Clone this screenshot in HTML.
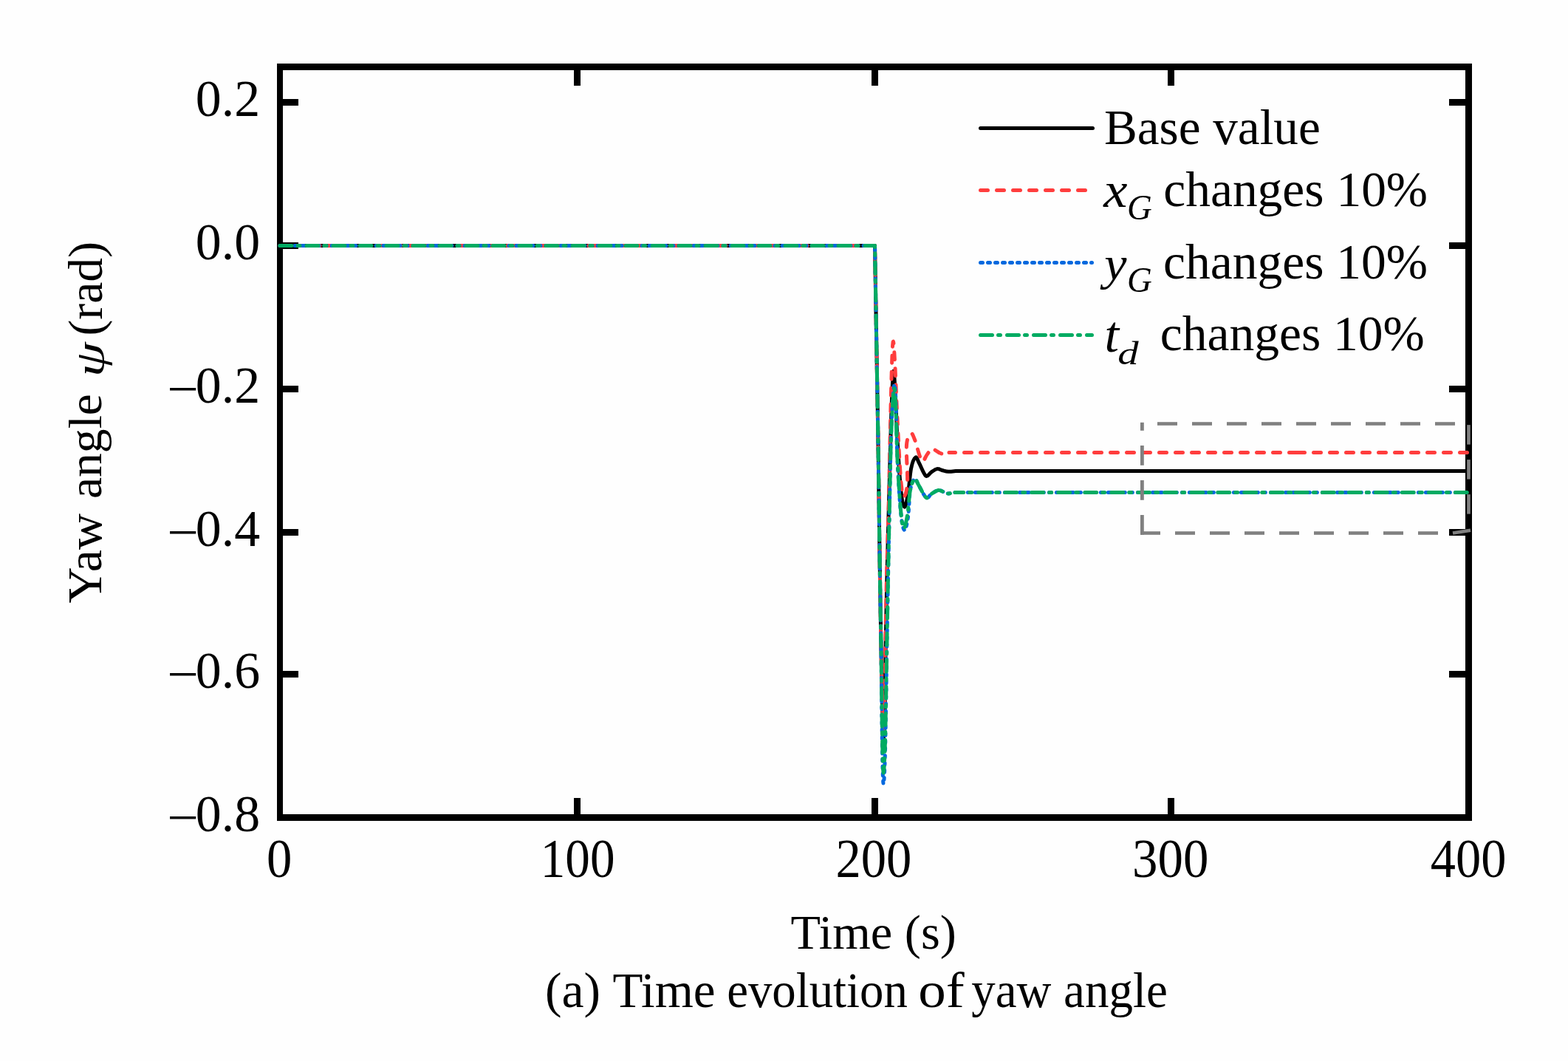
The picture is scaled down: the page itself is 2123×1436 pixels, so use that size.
<!DOCTYPE html><html><head><meta charset="utf-8"><style>html,body{margin:0;padding:0;background:#FEFEFE;overflow:hidden}svg{display:block}text{font-family:"Liberation Serif","Times New Roman",serif;fill:#000}</style></head><body>
<svg width="2123" height="1436" viewBox="0 0 2123 1436">
<rect x="0" y="0" width="2123" height="1436" fill="#FEFEFE"/>
<g fill="#000">
<rect x="375" y="86" width="1618" height="9"/>
<rect x="375" y="1102" width="1618" height="9"/>
<rect x="375" y="86" width="8" height="1025"/>
<rect x="1984" y="86" width="9" height="1025"/>
<rect x="383" y="134.0" width="21" height="9"/>
<rect x="1962" y="134.0" width="22" height="9"/>
<rect x="383" y="328.0" width="21" height="9"/>
<rect x="1962" y="328.0" width="22" height="9"/>
<rect x="383" y="522.0" width="21" height="9"/>
<rect x="1962" y="522.0" width="22" height="9"/>
<rect x="383" y="716.0" width="21" height="9"/>
<rect x="1962" y="716.0" width="22" height="9"/>
<rect x="383" y="908.0" width="21" height="9"/>
<rect x="1962" y="908.0" width="22" height="9"/>
<rect x="777.0" y="1080" width="9" height="22"/>
<rect x="777.0" y="95" width="9" height="21"/>
<rect x="1180.0" y="1080" width="9" height="22"/>
<rect x="1180.0" y="95" width="9" height="21"/>
<rect x="1581.0" y="1080" width="9" height="22"/>
<rect x="1581.0" y="95" width="9" height="21"/>
</g>
<text><tspan x="264.87" y="156.80" font-size="69.74" textLength="87.34" lengthAdjust="spacingAndGlyphs">0.2</tspan></text>
<text><tspan x="264.87" y="350.80" font-size="69.74" textLength="87.34" lengthAdjust="spacingAndGlyphs">0.0</tspan></text>
<text><tspan x="226.61" y="549.00" font-size="67.00" textLength="42.67" lengthAdjust="spacingAndGlyphs">−</tspan><tspan x="264.87" y="544.80" font-size="69.74" textLength="87.34" lengthAdjust="spacingAndGlyphs">0.2</tspan></text>
<text><tspan x="226.61" y="743.00" font-size="67.00" textLength="42.67" lengthAdjust="spacingAndGlyphs">−</tspan><tspan x="264.87" y="738.80" font-size="69.74" textLength="87.34" lengthAdjust="spacingAndGlyphs">0.4</tspan></text>
<text><tspan x="226.61" y="935.00" font-size="67.00" textLength="42.67" lengthAdjust="spacingAndGlyphs">−</tspan><tspan x="264.87" y="930.80" font-size="69.74" textLength="87.34" lengthAdjust="spacingAndGlyphs">0.6</tspan></text>
<text><tspan x="226.61" y="1129.00" font-size="67.00" textLength="42.67" lengthAdjust="spacingAndGlyphs">−</tspan><tspan x="264.87" y="1124.80" font-size="69.74" textLength="87.34" lengthAdjust="spacingAndGlyphs">0.8</tspan></text>
<text><tspan x="361.03" y="1187.00" font-size="73.40" textLength="34.34" lengthAdjust="spacingAndGlyphs">0</tspan></text>
<text><tspan x="731.79" y="1187.00" font-size="73.40" textLength="100.72" lengthAdjust="spacingAndGlyphs">100</tspan></text>
<text><tspan x="1131.43" y="1187.00" font-size="73.40" textLength="102.93" lengthAdjust="spacingAndGlyphs">200</tspan></text>
<text><tspan x="1533.11" y="1187.00" font-size="73.40" textLength="103.36" lengthAdjust="spacingAndGlyphs">300</tspan></text>
<text><tspan x="1936.78" y="1187.00" font-size="73.40" textLength="102.57" lengthAdjust="spacingAndGlyphs">400</tspan></text>
<text><tspan x="1070.61" y="1283.88" font-size="65.68" textLength="224.16" lengthAdjust="spacingAndGlyphs">Time (s)</tspan></text>
<text><tspan x="737.97" y="1363.00" font-size="67.00" textLength="75.14" lengthAdjust="spacingAndGlyphs">(a)</tspan> <tspan x="829.50" y="1363.00" font-size="67.00" textLength="139.05" lengthAdjust="spacingAndGlyphs">Time</tspan> <tspan x="984.20" y="1363.00" font-size="67.00" textLength="244.66" lengthAdjust="spacingAndGlyphs">evolution</tspan> <tspan x="1243.24" y="1363.00" font-size="67.00" textLength="62.45" lengthAdjust="spacingAndGlyphs">of</tspan> <tspan x="1315.23" y="1363.00" font-size="67.00" textLength="108.07" lengthAdjust="spacingAndGlyphs">yaw</tspan> <tspan x="1440.06" y="1363.00" font-size="67.00" textLength="140.77" lengthAdjust="spacingAndGlyphs">angle</tspan></text>
<text><tspan x="1494.89" y="195.00" font-size="68.34" textLength="292.89" lengthAdjust="spacingAndGlyphs">Base value</tspan></text>
<text><tspan x="1494.38" y="280.00" font-size="67.22" font-style="italic" textLength="32.23" lengthAdjust="spacingAndGlyphs">x</tspan><tspan x="1525.98" y="297.00" font-size="48.30" font-style="italic" textLength="33.78" lengthAdjust="spacingAndGlyphs">G</tspan> <tspan x="1575.28" y="279.20" font-size="68.34" textLength="357.80" lengthAdjust="spacingAndGlyphs">changes 10%</tspan></text>
<text><tspan x="1495.29" y="377.54" font-size="63.94" font-style="italic" textLength="30.26" lengthAdjust="spacingAndGlyphs">y</tspan><tspan x="1525.98" y="394.80" font-size="47.85" font-style="italic" textLength="33.78" lengthAdjust="spacingAndGlyphs">G</tspan> <tspan x="1575.08" y="377.20" font-size="68.34" textLength="358.00" lengthAdjust="spacingAndGlyphs">changes 10%</tspan></text>
<text><tspan x="1495.56" y="476.00" font-size="68.76" font-style="italic" textLength="19.50" lengthAdjust="spacingAndGlyphs">t</tspan><tspan x="1513.24" y="492.90" font-size="45.04" font-style="italic" textLength="28.36" lengthAdjust="spacingAndGlyphs">d</tspan> <tspan x="1570.78" y="474.40" font-size="68.34" textLength="358.00" lengthAdjust="spacingAndGlyphs">changes 10%</tspan></text>
<text transform="rotate(-90)"><tspan x="-816.41" y="137.01" font-size="66.11" textLength="121.52" lengthAdjust="spacingAndGlyphs">Yaw</tspan> <tspan x="-675.06" y="137.47" font-size="63.81" textLength="142.01" lengthAdjust="spacingAndGlyphs">angle</tspan> <tspan x="-510.22" y="140.47" font-size="54.21" font-style="italic" textLength="46.99" lengthAdjust="spacingAndGlyphs">ψ</tspan> <tspan x="-454.64" y="138.08" font-size="64.69" textLength="127.77" lengthAdjust="spacingAndGlyphs">(rad)</tspan></text>
<line x1="1327.5" y1="173.5" x2="1479.5" y2="173.5" stroke="#000" stroke-width="5" stroke-linecap="round"/>
<line x1="1327.5" y1="257.5" x2="1479.5" y2="257.5" stroke="#FF3D3D" stroke-width="5" stroke-linecap="round" stroke-dasharray="10 12"/>
<line x1="1327.5" y1="355.5" x2="1478.5" y2="355.5" stroke="#0068DE" stroke-width="5" stroke-linecap="round" stroke-dasharray="3 7"/>
<line x1="1327.5" y1="453.5" x2="1478.5" y2="453.5" stroke="#00AB62" stroke-width="5" stroke-linecap="round" stroke-dasharray="16 8 3 9"/>
<path d="M379,332.5 L1184.50,332.50 C1184.83,352.08 1185.75,405.42 1186.50,450.00 C1187.25,494.58 1188.25,550.00 1189.00,600.00 C1189.75,650.00 1190.33,703.33 1191.00,750.00 C1191.67,796.67 1192.40,845.83 1193.00,880.00 C1193.60,914.17 1194.10,935.00 1194.60,955.00 C1195.10,975.00 1195.38,1000.00 1196.00,1000.00 C1196.62,1000.00 1197.78,975.00 1198.30,955.00 C1198.82,935.00 1198.70,907.50 1199.10,880.00 C1199.50,852.50 1199.96,823.33 1200.70,790.00 C1201.44,756.67 1202.54,717.75 1203.54,680.00 C1204.54,642.25 1205.71,592.92 1206.70,563.50 C1207.69,534.08 1208.62,509.33 1209.50,503.50 C1210.38,497.67 1211.08,513.29 1212.00,528.50 C1212.92,543.71 1213.75,572.67 1215.00,594.75 C1216.25,616.83 1217.92,645.79 1219.50,661.00 C1221.08,676.21 1222.83,684.83 1224.50,686.00 C1226.17,687.17 1227.98,676.67 1229.50,668.00 C1231.02,659.33 1231.92,642.17 1233.60,634.00 C1235.28,625.83 1237.77,620.17 1239.60,619.00 C1241.43,617.83 1242.28,622.83 1244.60,627.00 C1246.92,631.17 1250.85,641.95 1253.50,644.00 C1256.15,646.05 1257.98,640.87 1260.50,639.30 C1263.02,637.73 1266.08,635.08 1268.60,634.60 C1271.12,634.12 1273.03,635.83 1275.60,636.45 C1278.17,637.07 1280.93,638.12 1284.00,638.30 C1287.07,638.47 1292.33,637.63 1294.00,637.50 L1988.5,637.5" fill="none" stroke="#000" stroke-width="5" stroke-linejoin="round"/>
<path d="M379,332.5 L1184.50,332.50 C1184.83,352.08 1185.75,405.42 1186.50,450.00 C1187.25,494.58 1188.25,550.00 1189.00,600.00 C1189.75,650.00 1190.33,703.33 1191.00,750.00 C1191.67,796.67 1192.40,847.83 1193.00,880.00 C1193.60,912.17 1194.13,925.00 1194.60,943.00 C1195.07,961.00 1195.22,988.00 1195.80,988.00 C1196.38,988.00 1197.62,961.00 1198.10,943.00 C1198.58,925.00 1198.33,905.50 1198.70,880.00 C1199.07,854.50 1199.53,823.33 1200.30,790.00 C1201.07,756.67 1202.23,724.42 1203.30,680.00 C1204.37,635.58 1205.75,559.58 1206.70,523.50 C1207.65,487.42 1208.20,469.33 1209.00,463.50 C1209.80,457.67 1210.50,471.12 1211.50,488.50 C1212.50,505.88 1213.67,541.33 1215.00,567.75 C1216.33,594.17 1218.08,629.62 1219.50,647.00 C1220.92,664.38 1222.00,670.83 1223.50,672.00 C1225.00,673.17 1227.83,665.67 1228.50,654.00 C1229.17,642.33 1226.67,613.17 1227.50,602.00 C1228.33,590.83 1231.67,588.17 1233.50,587.00 C1235.33,585.83 1236.08,588.92 1238.50,595.00 C1240.92,601.08 1245.25,620.08 1248.00,623.50 C1250.75,626.92 1252.75,618.17 1255.00,615.50 C1257.25,612.83 1259.25,608.29 1261.50,607.50 C1263.75,606.71 1266.25,609.67 1268.50,610.75 C1270.75,611.83 1272.25,613.71 1275.00,614.00 C1277.75,614.29 1283.33,612.75 1285.00,612.50" fill="none" stroke="#FF3D3D" stroke-width="5" stroke-linecap="round" stroke-linejoin="round" stroke-dasharray="10 12"/>
<path d="M1285,612.5 L1756.5,612.5" fill="none" stroke="#FF3D3D" stroke-width="5" stroke-linecap="round" stroke-linejoin="round" stroke-dasharray="10 12" stroke-dashoffset="1.50"/>
<path d="M1756.5,612.5 L1988.5,612.5" fill="none" stroke="#FF3D3D" stroke-width="5" stroke-linecap="round" stroke-linejoin="round" stroke-dasharray="10 12"/>
<path d="M379,332.5 L1184.50,332.50 C1184.83,352.08 1185.75,405.42 1186.50,450.00 C1187.25,494.58 1188.25,550.00 1189.00,600.00 C1189.75,650.00 1190.33,703.33 1191.00,750.00 C1191.67,796.67 1192.40,835.67 1193.00,880.00 C1193.60,924.33 1194.07,985.83 1194.60,1016.00 C1195.13,1046.17 1195.55,1061.00 1196.20,1061.00 C1196.85,1061.00 1197.75,1046.17 1198.50,1016.00 C1199.25,985.83 1200.07,917.67 1200.70,880.00 C1201.33,842.33 1201.67,823.33 1202.30,790.00 C1202.93,756.67 1203.77,714.75 1204.50,680.00 C1205.23,645.25 1205.68,607.92 1206.70,581.50 C1207.72,555.08 1209.53,527.33 1210.60,521.50 C1211.67,515.67 1212.37,530.17 1213.10,546.50 C1213.83,562.83 1213.93,595.17 1215.00,619.50 C1216.07,643.83 1217.92,676.17 1219.50,692.50 C1221.08,708.83 1222.83,716.33 1224.50,717.50 C1226.17,718.67 1228.17,708.58 1229.50,699.50 C1230.83,690.42 1231.00,671.58 1232.50,663.00 C1234.00,654.42 1236.67,649.17 1238.50,648.00 C1240.33,646.83 1240.92,651.75 1243.50,656.00 C1246.08,660.25 1251.08,671.42 1254.00,673.50 C1256.92,675.58 1258.25,670.17 1261.00,668.50 C1263.75,666.83 1267.75,663.96 1270.50,663.50 C1273.25,663.04 1275.42,665.00 1277.50,665.75 C1279.58,666.50 1280.42,667.88 1283.00,668.00 C1285.58,668.12 1291.33,666.75 1293.00,666.50" fill="none" stroke="#0068DE" stroke-width="5" stroke-linecap="round" stroke-linejoin="round" stroke-dasharray="3 7"/>
<path d="M1293,666.5 L1988.5,666.5" fill="none" stroke="#0068DE" stroke-width="5" stroke-linecap="round" stroke-linejoin="round" stroke-dasharray="3 7" stroke-dashoffset="2.65"/>
<path d="M379,332.5 L1184.50,332.50 C1184.83,352.08 1185.75,405.42 1186.50,450.00 C1187.25,494.58 1188.25,550.00 1189.00,600.00 C1189.75,650.00 1190.33,703.33 1191.00,750.00 C1191.67,796.67 1192.40,838.17 1193.00,880.00 C1193.60,921.83 1194.07,973.33 1194.60,1001.00 C1195.13,1028.67 1195.55,1046.00 1196.20,1046.00 C1196.85,1046.00 1197.75,1028.67 1198.50,1001.00 C1199.25,973.33 1200.07,915.17 1200.70,880.00 C1201.33,844.83 1201.67,823.33 1202.30,790.00 C1202.93,756.67 1203.77,713.83 1204.50,680.00 C1205.23,646.17 1205.73,612.50 1206.70,587.00 C1207.67,561.50 1209.28,532.83 1210.30,527.00 C1211.32,521.17 1212.02,536.33 1212.80,552.00 C1213.58,567.67 1213.88,598.00 1215.00,621.00 C1216.12,644.00 1218.07,674.33 1219.50,690.00 C1220.93,705.67 1222.08,713.83 1223.60,715.00 C1225.12,716.17 1227.12,705.67 1228.60,697.00 C1230.08,688.33 1230.85,671.17 1232.50,663.00 C1234.15,654.83 1236.67,649.17 1238.50,648.00 C1240.33,646.83 1240.92,651.75 1243.50,656.00 C1246.08,660.25 1251.08,671.42 1254.00,673.50 C1256.92,675.58 1258.25,670.17 1261.00,668.50 C1263.75,666.83 1267.75,663.96 1270.50,663.50 C1273.25,663.04 1275.42,665.00 1277.50,665.75 C1279.58,666.50 1280.42,667.88 1283.00,668.00 C1285.58,668.12 1291.33,666.75 1293.00,666.50" fill="none" stroke="#00AB62" stroke-width="5" stroke-linecap="round" stroke-linejoin="round" stroke-dasharray="16 8 3 9"/>
<path d="M1293,666.5 L1754.3,666.5" fill="none" stroke="#00AB62" stroke-width="5" stroke-linecap="round" stroke-linejoin="round" stroke-dasharray="16 8 3 9" stroke-dashoffset="4.30"/>
<path d="M1754.3,666.5 L1988.5,666.5" fill="none" stroke="#00AB62" stroke-width="5" stroke-linecap="round" stroke-linejoin="round" stroke-dasharray="16 8 3 9"/>
<g fill="#808080">
<rect x="1567.0" y="571.2" width="27.0" height="4.6"/>
<rect x="1614.0" y="571.2" width="27.0" height="4.6"/>
<rect x="1661.0" y="571.2" width="27.0" height="4.6"/>
<rect x="1708.0" y="571.2" width="27.0" height="4.6"/>
<rect x="1755.0" y="571.2" width="27.0" height="4.6"/>
<rect x="1802.0" y="571.2" width="27.0" height="4.6"/>
<rect x="1849.0" y="571.2" width="27.0" height="4.6"/>
<rect x="1896.0" y="571.2" width="27.0" height="4.6"/>
<rect x="1943.0" y="571.2" width="27.0" height="4.6"/>
<rect x="1544.0" y="719.2" width="27.0" height="4.6"/>
<rect x="1591.0" y="719.2" width="27.0" height="4.6"/>
<rect x="1638.0" y="719.2" width="27.0" height="4.6"/>
<rect x="1685.0" y="719.2" width="27.0" height="4.6"/>
<rect x="1732.0" y="719.2" width="27.0" height="4.6"/>
<rect x="1779.0" y="719.2" width="27.0" height="4.6"/>
<rect x="1826.0" y="719.2" width="27.0" height="4.6"/>
<rect x="1873.0" y="719.2" width="27.0" height="4.6"/>
<rect x="1920.0" y="719.2" width="27.0" height="4.6"/>
<rect x="1544.0" y="697.0" width="4.8" height="26.8"/>
<rect x="1544.0" y="650.0" width="4.8" height="26.8"/>
<rect x="1544.0" y="603.0" width="4.8" height="26.8"/>
<rect x="1544.0" y="571.8" width="4.8" height="11.0"/>
<rect x="1986.2" y="575.1" width="4.6" height="26.5"/>
<rect x="1986.2" y="622.1" width="4.6" height="26.5"/>
<rect x="1986.2" y="669.1" width="4.6" height="26.5"/>
</g>
<line x1="1967" y1="721.5" x2="1991" y2="717.8" stroke="#808080" stroke-width="4.6"/>
</svg></body></html>
